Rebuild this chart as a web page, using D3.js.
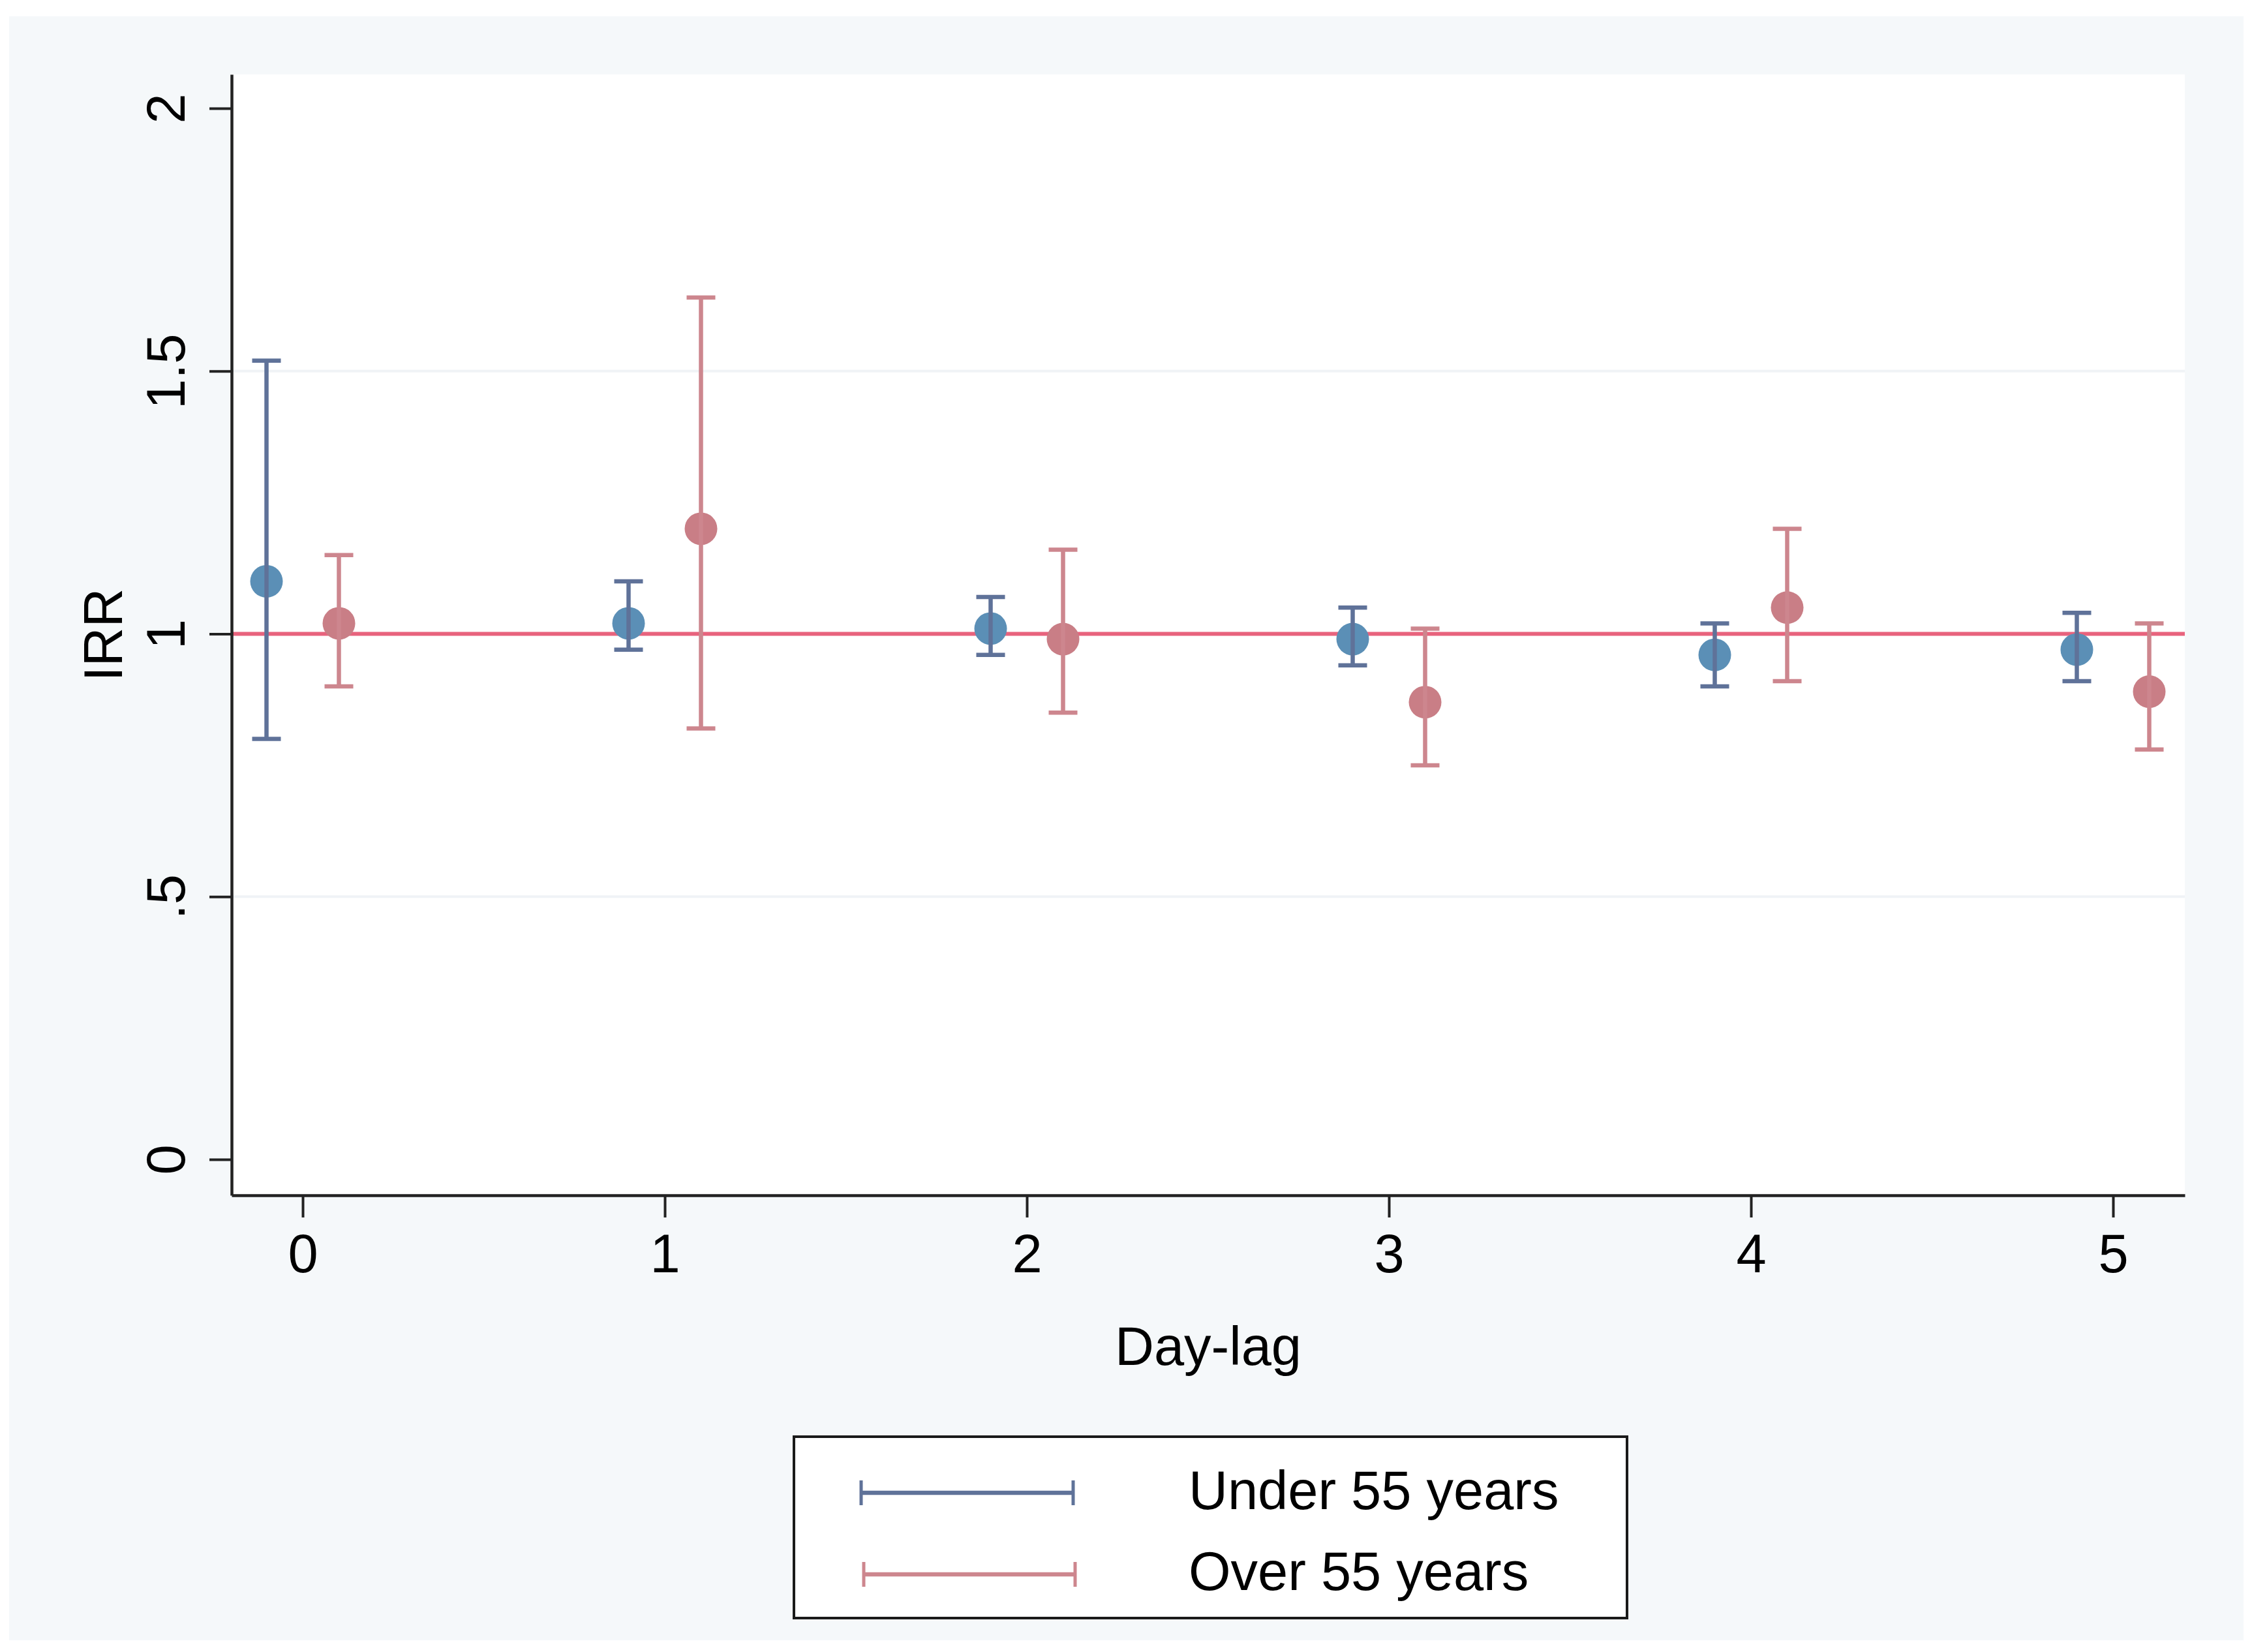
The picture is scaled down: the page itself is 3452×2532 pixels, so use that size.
<!DOCTYPE html>
<html>
<head>
<meta charset="utf-8">
<script src="https://cdn.jsdelivr.net/npm/d3@7"></script>
<style>
  html, body { margin: 0; padding: 0; background: #ffffff; }
  svg { display: block; }
  text { font-family: "Liberation Sans", Arial, Helvetica, sans-serif; fill: #000; }
</style>
</head>
<body>
<svg id="chart" width="3452" height="2532"></svg>
<script>
// ---- data ----
const dayLags = [0, 1, 2, 3, 4, 5];
const seriesNames = ["Under 55 years", "Over 55 years"];
const under55Irr   = [1.10, 1.02, 1.01, 0.99, 0.96, 0.97];
const under55Lower = [0.80, 0.97, 0.96, 0.94, 0.90, 0.91];
const under55Upper = [1.52, 1.10, 1.07, 1.05, 1.02, 1.04];
const over55Irr    = [1.02, 1.20, 0.99, 0.87, 1.05, 0.89];
const over55Lower  = [0.90, 0.82, 0.85, 0.75, 0.91, 0.78];
const over55Upper  = [1.15, 1.64, 1.16, 1.01, 1.20, 1.02];
const yTickValues = [0, 0.5, 1, 1.5, 2];
const yTickLabels = ["0", ".5", "1", "1.5", "2"];
const xTickValues = [0, 1, 2, 3, 4, 5];
const xTickLabels = ["0", "1", "2", "3", "4", "5"];
const gridValues = [0.5, 1.5];
const referenceValue = 1;
const xTitle = "Day-lag";
const yTitle = "IRR";

// ---- layout ----
const plot = { left: 355, right: 3349, top: 114, bottom: 1832 };
const svg = d3.select("#chart");

const x = d3.scaleLinear().domain([0, 5]).range([464, 3239]);
const y0 = d3.scaleLinear().domain([0, 2]).range([1777, 166]);
const y = d3.scaleLinear()
  .domain([y0.invert(plot.bottom), y0.invert(plot.top)])
  .range([plot.bottom, plot.top]);
const xs = x.copy().domain([x.invert(plot.left), x.invert(plot.right)]).range([plot.left, plot.right]);

const colors = {
  bg: "#f5f8fa",
  grid: "#f0f3f6",
  ref: "#e8637d",
  blueMarker: "#5b8fb6",
  blueLine: "#5f7299",
  redMarker: "#c97e86",
  redLine: "#cd868e",
  axis: "#222222"
};

// outer background
svg.append("rect").attr("x", 14).attr("y", 25).attr("width", 3439 - 14).attr("height", 2514 - 25)
  .attr("fill", colors.bg);
// plot region
svg.append("rect").attr("x", plot.left).attr("y", plot.top)
  .attr("width", plot.right - plot.left).attr("height", plot.bottom - plot.top)
  .attr("fill", "#ffffff");

// grid lines
svg.append("g").selectAll("line").data(gridValues).join("line")
  .attr("x1", plot.left).attr("x2", plot.right)
  .attr("y1", d => y(d)).attr("y2", d => y(d))
  .attr("stroke", colors.grid).attr("stroke-width", 4);

// reference line
svg.append("line")
  .attr("x1", plot.left).attr("x2", plot.right)
  .attr("y1", y(referenceValue)).attr("y2", y(referenceValue))
  .attr("stroke", colors.ref).attr("stroke-width", 6);

// series
const series = [
  { name: seriesNames[0], irr: under55Irr, lo: under55Lower, hi: under55Upper, off: -0.1, mc: colors.blueMarker, lc: colors.blueLine },
  { name: seriesNames[1], irr: over55Irr, lo: over55Lower, hi: over55Upper, off: 0.1, mc: colors.redMarker, lc: colors.redLine }
];
const capHalf = 22;
series.forEach(s => {
  const pts = dayLags.map((d, i) => ({ x: d + s.off, v: s.irr[i], lo: s.lo[i], hi: s.hi[i] }));
  const g = svg.append("g");
  g.selectAll("circle").data(pts).join("circle")
    .attr("cx", d => x(d.x)).attr("cy", d => y(d.v)).attr("r", 25)
    .attr("fill", s.mc);
  const ci = g.selectAll("g.ci").data(pts).join("g").attr("class", "ci")
    .attr("stroke", s.lc).attr("stroke-width", 6.5).attr("fill", "none");
  ci.append("line").attr("x1", d => x(d.x)).attr("x2", d => x(d.x))
    .attr("y1", d => y(d.lo)).attr("y2", d => y(d.hi));
  ci.append("line").attr("x1", d => x(d.x) - capHalf).attr("x2", d => x(d.x) + capHalf)
    .attr("y1", d => y(d.lo)).attr("y2", d => y(d.lo));
  ci.append("line").attr("x1", d => x(d.x) - capHalf).attr("x2", d => x(d.x) + capHalf)
    .attr("y1", d => y(d.hi)).attr("y2", d => y(d.hi));
});

// y axis
const yAxis = d3.axisLeft(y).tickValues(yTickValues)
  .tickFormat((d, i) => yTickLabels[i]).tickSize(34).tickSizeOuter(0).tickPadding(0);
const gy = svg.append("g").attr("transform", `translate(${plot.left},0)`).call(yAxis);
gy.select(".domain").attr("stroke", colors.axis).attr("stroke-width", 4.5);
gy.selectAll(".tick line").attr("stroke", colors.axis).attr("stroke-width", 4);
gy.selectAll(".tick text")
  .attr("x", null).attr("dy", null)
  .attr("transform", "translate(-72,0) rotate(-90)")
  .attr("text-anchor", "middle")
  .style("font-size", "83px")
  .style("font-family", "'Liberation Sans', Arial, sans-serif")
  .attr("fill", "#000");

// x axis
const xAxis = d3.axisBottom(xs).tickValues(xTickValues)
  .tickFormat((d, i) => xTickLabels[i]).tickSize(34).tickSizeOuter(0).tickPadding(0);
const gx = svg.append("g").attr("transform", `translate(0,${plot.bottom})`).call(xAxis);
gx.select(".domain").attr("stroke", colors.axis).attr("stroke-width", 4.5);
gx.selectAll(".tick line").attr("stroke", colors.axis).attr("stroke-width", 4);
gx.selectAll(".tick text")
  .attr("y", 118).attr("dy", null)
  .attr("text-anchor", "middle")
  .style("font-size", "83px")
  .style("font-family", "'Liberation Sans', Arial, sans-serif")
  .attr("fill", "#000");

// axis titles
svg.append("text").attr("x", (plot.left + plot.right) / 2).attr("y", 2092)
  .attr("text-anchor", "middle").style("font-size", "83px").text(xTitle);
svg.append("text").attr("transform", `translate(187,${(plot.top + plot.bottom) / 2}) rotate(-90)`)
  .attr("text-anchor", "middle").style("font-size", "83px").text(yTitle);

// legend
const legend = svg.append("g");
legend.append("rect").attr("x", 1217).attr("y", 2202).attr("width", 2494 - 1217).attr("height", 2480 - 2202)
  .attr("fill", "#ffffff").attr("stroke", "#1a1a1a").attr("stroke-width", 4);
const legendRows = series.map((s, i) => ({ name: s.name, color: s.lc, ly: [2288, 2413][i], ty: [2313, 2437][i], x1: [1320, 1324][i], x2: [1645, 1648][i] }));
const lr = legend.selectAll("g.row").data(legendRows).join("g").attr("class", "row");
lr.append("line").attr("x1", d => d.x1).attr("x2", d => d.x2).attr("y1", d => d.ly).attr("y2", d => d.ly)
  .attr("stroke", d => d.color).attr("stroke-width", 6.5);
lr.append("line").attr("x1", d => d.x1).attr("x2", d => d.x1).attr("y1", d => d.ly - 19).attr("y2", d => d.ly + 19)
  .attr("stroke", d => d.color).attr("stroke-width", 5);
lr.append("line").attr("x1", d => d.x2).attr("x2", d => d.x2).attr("y1", d => d.ly - 19).attr("y2", d => d.ly + 19)
  .attr("stroke", d => d.color).attr("stroke-width", 5);
lr.append("text").attr("x", 1822).attr("y", d => d.ty).style("font-size", "83px").text(d => d.name);
</script>
</body>
</html>
